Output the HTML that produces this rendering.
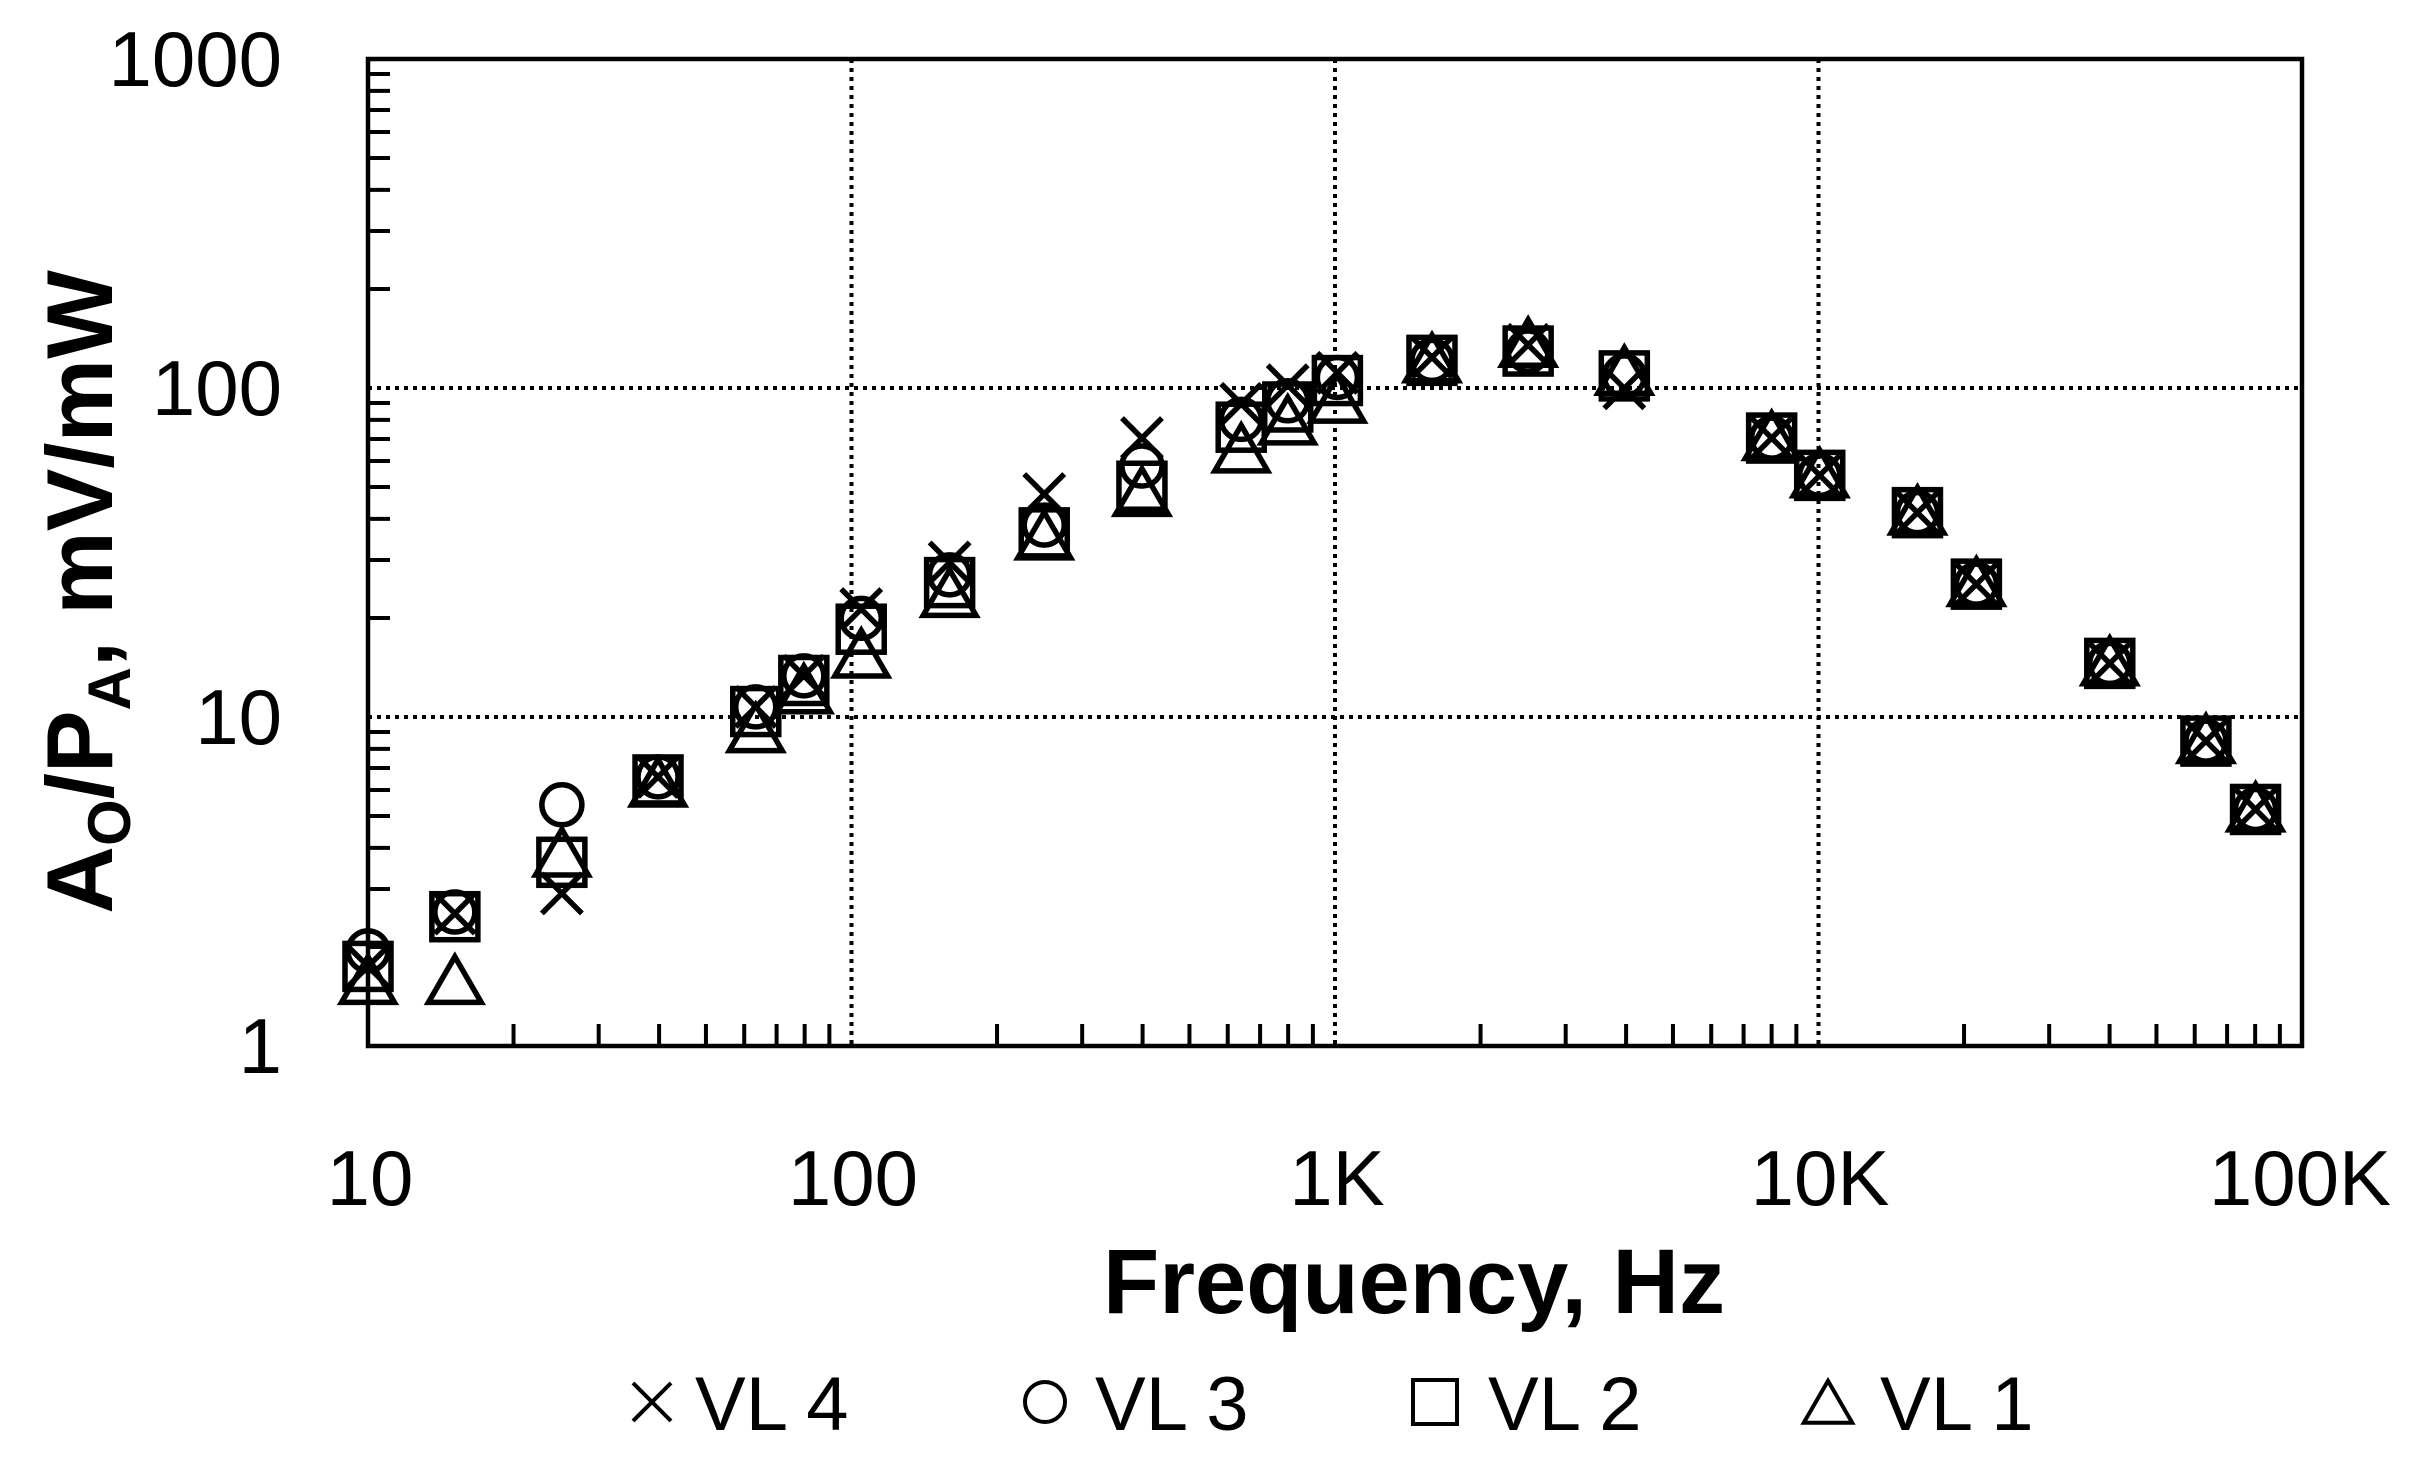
<!DOCTYPE html>
<html><head><meta charset="utf-8"><style>
html,body{margin:0;padding:0;background:#fff}
svg{display:block}
text{font-family:"Liberation Sans",Arial,sans-serif;fill:#000}
</style></head><body>
<svg id="s" width="2431" height="1466" viewBox="0 0 2431 1466" xmlns="http://www.w3.org/2000/svg">
<g id="grid" stroke="#000" stroke-width="4" stroke-dasharray="4,5"></g>
<g id="ticks" stroke="#000" stroke-width="4"></g>
<rect x="368" y="59" width="1934" height="987" fill="none" stroke="#000" stroke-width="4.5"/>
<g id="m" fill="none" stroke="#000" stroke-width="5.5"></g>
<g font-size="78" text-anchor="end">
<text x="282" y="86">1000</text>
<text x="282" y="415">100</text>
<text x="282" y="744">10</text>
<text x="282" y="1073">1</text>
</g>
<g font-size="78" text-anchor="middle">
<text x="370" y="1205">10</text>
<text x="853" y="1205">100</text>
<text x="1337" y="1205">1K</text>
<text x="1820" y="1205">10K</text>
<text x="2300" y="1205">100K</text>
</g>
<text x="1414" y="1313" font-size="92" font-weight="bold" text-anchor="middle">Frequency, Hz</text>
<text transform="translate(112,592) rotate(-90)" font-size="94" font-weight="bold" text-anchor="middle">A<tspan font-size="60" dy="18">O</tspan><tspan dy="-18">/P</tspan><tspan font-size="60" dy="18">A</tspan><tspan dy="-18">, mV/mW</tspan></text>
<g font-size="76">
<text x="695" y="1430">VL 4</text>
<text x="1095" y="1430">VL 3</text>
<text x="1488" y="1430">VL 2</text>
<text x="1880" y="1430">VL 1</text>
</g>
<g id="leg" fill="none" stroke="#000" stroke-width="4"></g>
</svg>
<script>
var NS="http://www.w3.org/2000/svg";
function el(p,t,a){var e=document.createElementNS(NS,t);for(var k in a)e.setAttribute(k,a[k]);document.getElementById(p).appendChild(e);return e;}
var X0=368,X1=2302,Y0=59,Y1=1046,DX=(X1-X0)/4,DY=(Y1-Y0)/3;
[1,2,3].forEach(function(i){var x=X0+i*DX;el('grid','line',{x1:x,y1:Y0,x2:x,y2:Y1});});
[1,2].forEach(function(i){var y=Y0+i*DY;el('grid','line',{x1:X0,y1:y,x2:X1,y2:y});});
for(var d=0;d<4;d++)for(var k=2;k<10;k++){var x=X0+(d+Math.log10(k))*DX;el('ticks','line',{x1:x,y1:Y1,x2:x,y2:Y1-22});}
for(var d=0;d<3;d++)for(var k=2;k<10;k++){var y=Y1-(d+Math.log10(k))*DY;el('ticks','line',{x1:X0,y1:y,x2:X0+22,y2:y});}
function mx(px){return 368+(px-237)*1.551;}
function my(py){return 59+(py-40)*1.554+3;}
var xs=[237,293,362,424,487,518,555,612,673,736,800,830,862,923,985,1047,1142,1173,1236,1274,1360,1422,1454];
var sq=[622,590,555,502,458,438,405,375,343,313,275,262,245,232,226,242,282,306,330,376,427,477,521];
var ci=[612,587,518,500,455,435,398,370,338,300,270,258,243,232,226,242,282,306,330,376,427,477,521];
var xx=[622,588,575,500,455,435,392,362,318,282,260,248,240,230,222,250,282,306,330,376,427,477,521];
var tr=[632,632,550,505,470,445,422,383,346,318,290,272,258,232,222,240,282,306,330,376,427,477,521];
function drawX(g,x,y,s){el(g,'path',{d:'M'+(x-s)+' '+(y-s)+'L'+(x+s)+' '+(y+s)+'M'+(x-s)+' '+(y+s)+'L'+(x+s)+' '+(y-s)});}
function drawO(g,x,y,r){el(g,'circle',{cx:x,cy:y,r:r});}
function drawS(g,x,y,s){el(g,'rect',{x:x-s,y:y-s,width:2*s,height:2*s});}
function drawT(g,x,y,s){el(g,'path',{d:'M'+x+' '+(y-s*1.05)+'L'+(x+s*1.1)+' '+(y+s*0.85)+'L'+(x-s*1.1)+' '+(y+s*0.85)+'Z'});}
for(var i=0;i<xs.length;i++){var x=mx(xs[i]);
drawT('m',x,my(tr[i]),24);
drawS('m',x,my(sq[i]),23);
drawO('m',x,my(ci[i]),20);
drawX('m',x,my(xx[i]),20);}
drawX('leg',652,1402,19);
drawO('leg',1045,1402,20);
drawS('leg',1435,1402,22);
drawT('leg',1828,1404,22);
</script>
</body></html>
